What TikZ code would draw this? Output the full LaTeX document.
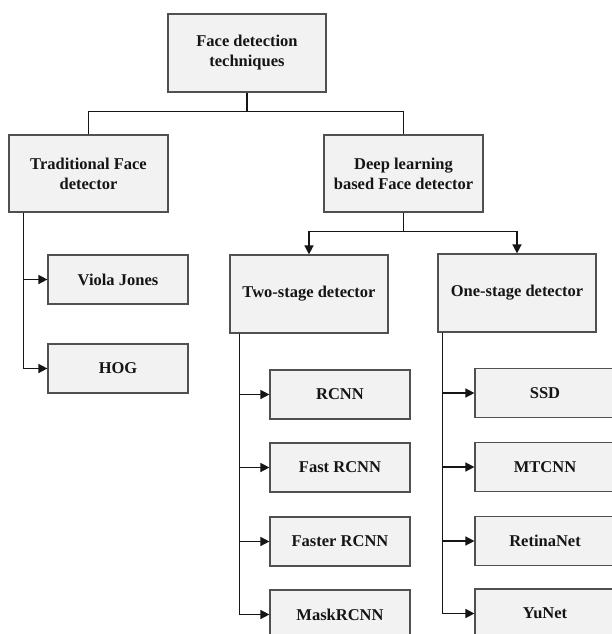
\documentclass[tikz,border=0pt]{standalone}
\usepackage{fontspec}
\setmainfont{Liberation Serif}
\usetikzlibrary{arrows.meta,calc}
\definecolor{boxfill}{HTML}{F2F2F2}
\definecolor{boxline}{HTML}{505050}
\definecolor{txt}{HTML}{151515}
\tikzset{
  box/.style={draw=boxline, fill=boxfill, line width=1.2pt, inner sep=0pt,
    align=center, text=txt, font=\fontsize{16.5}{20}\selectfont\bfseries},
  bigbox/.style={box, minimum width=158pt, minimum height=78pt},
  leafbox/.style={box, minimum width=140pt, minimum height=49pt},
  conn/.style={draw=txt, line width=1.5pt},
  arr/.style={conn, -{Triangle[length=9pt,width=9pt]}}
}
\begin{document}
\begin{tikzpicture}[x=1pt,y=-1pt]
\clip (0,0) rectangle (612,634);
\fill[white] (0,0) rectangle (612,634);
\node[bigbox] (top) at (247,53) {Face detection\\techniques};
\node[bigbox, minimum width=159pt, minimum height=77pt] (trad) at (88.5,173.5) {Traditional Face\\detector};
\node[bigbox, minimum width=159pt, minimum height=77pt] (deep) at (403.5,173.5) {Deep learning\\based Face detector};
\node[leafbox] (viola) at (118,279.5) {Viola Jones};
\node[leafbox] (hog) at (118,368.5) {HOG};
\node[bigbox] (two) at (309,294) {Two-stage detector};
\node[bigbox] (one) at (517,293) {One-stage detector};
\node[leafbox] (rcnn) at (340,394.5) {RCNN};
\node[leafbox] (fast) at (340,467.5) {Fast RCNN};
\node[leafbox] (faster) at (340,541.5) {Faster RCNN};
\node[leafbox] (mask) at (340,614.5) {MaskRCNN};
\node[leafbox] (ssd) at (545,393) {SSD};
\node[leafbox] (mtcnn) at (545,467) {MTCNN};
\node[leafbox] (retina) at (545,541) {RetinaNet};
\node[leafbox] (yunet) at (545,613.5) {YuNet};
% top level
\draw[conn] (top.south) -- ++(0,19) -| (trad.north);
\draw[conn] (top.south) -- ++(0,19) -| (deep.north);
% deep learning split
\draw[arr] (deep.south) -- ++(0,19) -| (two.north);
\draw[arr] (deep.south) -- ++(0,19) -| (one.north);
% traditional
\coordinate (tr) at ($(trad.south west)+(15,0)$);
\draw[arr] (tr) |- (viola.west);
\draw[arr] (tr) |- (hog.west);
% two-stage
\coordinate (ts) at ($(two.south west)+(10,0)$);
\draw[arr] (ts) |- (rcnn.west);
\draw[arr] (ts) |- (fast.west);
\draw[arr] (ts) |- (faster.west);
\draw[arr] (ts) |- (mask.west);
% one-stage
\coordinate (os) at ($(one.south west)+(5,0)$);
\draw[arr] (os) |- (ssd.west);
\draw[arr] (os) |- (mtcnn.west);
\draw[arr] (os) |- (retina.west);
\draw[arr] (os) |- (yunet.west);
\end{tikzpicture}
\end{document}
